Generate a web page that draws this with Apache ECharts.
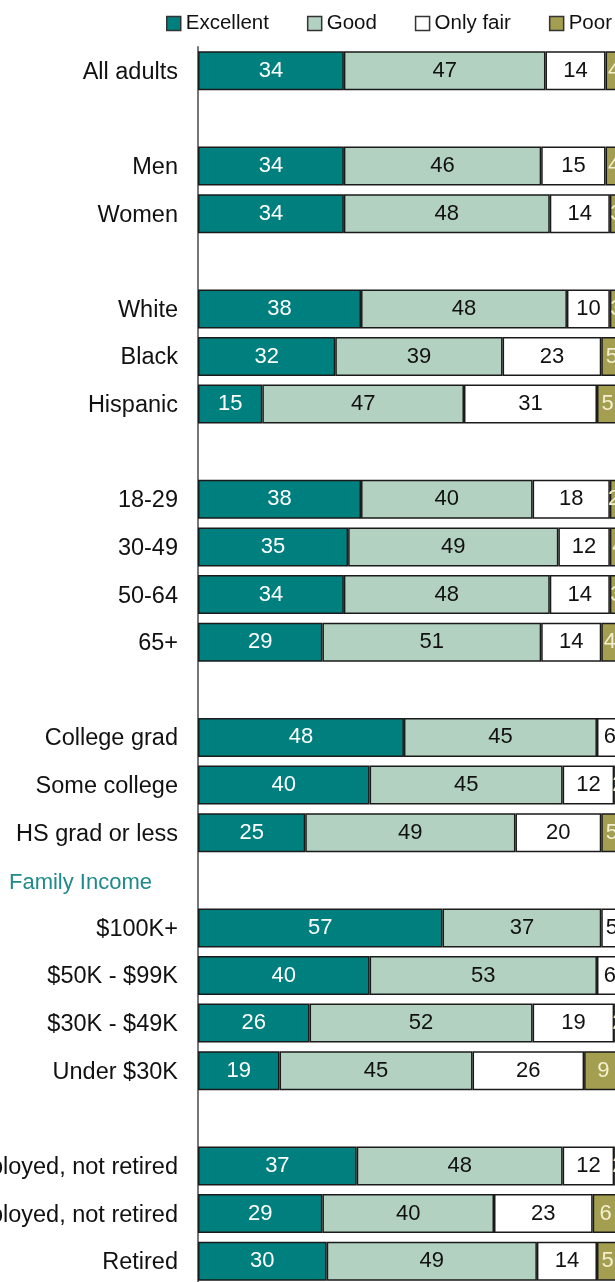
<!DOCTYPE html>
<html>
<head>
<meta charset="utf-8">
<script src="https://cdn.jsdelivr.net/npm/echarts@6/dist/echarts.min.js"></script>
<style>
html,body{margin:0;padding:0;background:#fff;}
#chart{width:615px;height:1282px;}
</style>
</head>
<body>
<div id="chart"></div>
<script>
const categories = ['All adults','', 'Men','Women','', 'White','Black','Hispanic','', '18-29','30-49','50-64','65+','', 'College grad','Some college','HS grad or less','Family Income', '$100K+','$50K - $99K','$30K - $49K','Under $30K','', 'Employed, not retired','Unemployed, not retired','Retired'];
const seriesNames = ['Excellent','Good','Only fair','Poor'];
const excellent = [34,null,34,34,null,38,32,15,null,38,35,34,29,null,48,40,25,null,57,40,26,19,null,37,29,30];
const good      = [47,null,46,48,null,48,39,47,null,40,49,48,51,null,45,45,49,null,37,53,52,45,null,48,40,49];
const onlyFair  = [14,null,15,14,null,10,23,31,null,18,12,14,14,null,6,12,20,null,5,6,19,26,null,12,23,14];
const poor      = [4,null,4,3,null,3,5,5,null,2,4,3,4,null,1,2,5,null,1,1,2,9,null,2,6,5];
const headingRows = ['Family Income'];

const FONT = '"Liberation Sans", Arial, sans-serif';
const colors = ['#007f7f','#b3d1c0','#ffffff','#a39e50'];
const labelColors = ['#ffffff','#111111','#111111','#f3efcf'];
const values = [excellent, good, onlyFair, poor];

const chart = echarts.init(document.getElementById('chart'));
chart.setOption({
  animation: false,
  textStyle: { fontFamily: FONT },
  legend: {
    data: seriesNames,
    left: 161,
    top: 8,
    width: 520,
    orient: 'horizontal',
    icon: 'rect',
    itemWidth: 14,
    itemHeight: 14,
    itemGap: 38,
    textStyle: { fontFamily: FONT, fontSize: 20.5, color: '#111' },
    itemStyle: { borderColor: '#333', borderWidth: 1.5 }
  },
  grid: {
    left: 198, top: 47, width: 429, height: 1238,
    containLabel: false, outerBoundsMode: 'none'
  },
  xAxis: {
    type: 'value', min: 0, max: 100, show: false
  },
  yAxis: {
    type: 'category',
    data: categories,
    inverse: true,
    axisLine: { show: true, lineStyle: { color: '#777', width: 2 } },
    axisTick: { show: false },
    axisLabel: {
      margin: 20,
      fontFamily: FONT,
      fontSize: 23.5,
      color: '#111',
      padding: [3, 0, 0, 0],
      formatter: function (v) {
        return headingRows.indexOf(v) >= 0 ? '{h|' + v + '}' : v;
      },
      rich: {
        h: { fontFamily: FONT, fontSize: 22, color: '#1f8a8a', padding: [2, 26, 0, 0] }
      }
    }
  },
  series: seriesNames.map(function (name, i) {
    return {
      name: name,
      type: 'bar',
      stack: 'total',
      barWidth: 39,
      data: values[i],
      itemStyle: { color: colors[i], borderColor: '#1a1a1a', borderWidth: 1.5 },
      label: {
        show: true,
        position: 'inside',
        fontFamily: FONT,
        fontSize: 22,
        color: labelColors[i]
      }
    };
  })
});
</script>
</body>
</html>
